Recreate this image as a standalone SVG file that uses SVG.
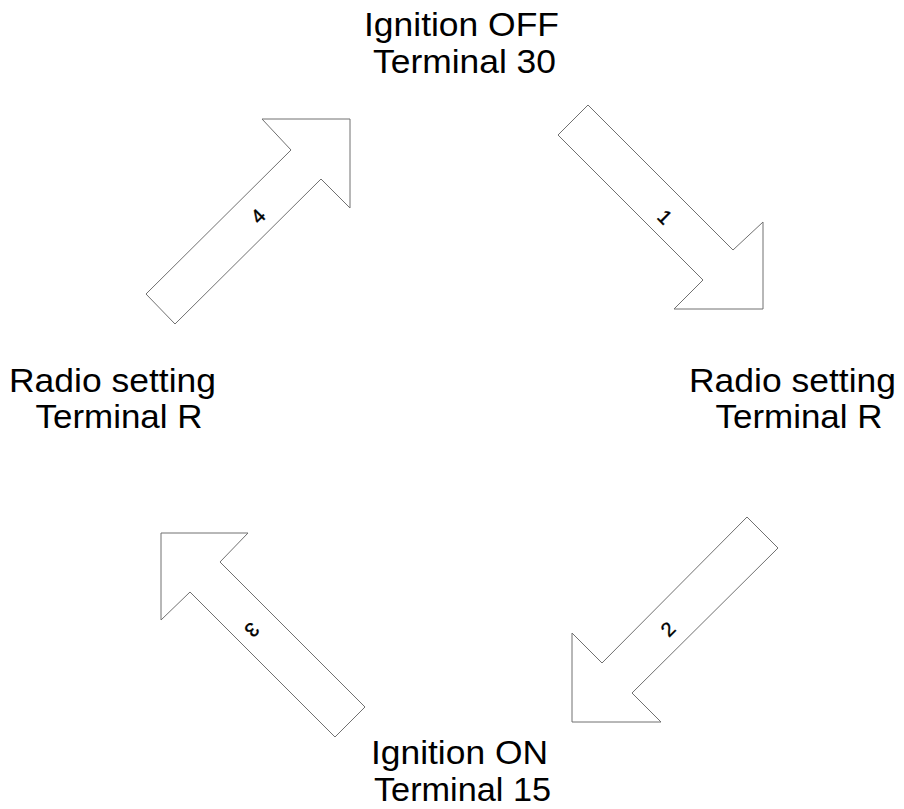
<svg xmlns="http://www.w3.org/2000/svg" width="904" height="809" viewBox="0 0 904 809">
<style>
.arrow{fill:#ffffff;stroke:#707070;stroke-width:1}
.state{font-family:"Liberation Sans",Arial,Helvetica,sans-serif;font-size:33px;fill:#000}
.num{font-family:"Liberation Sans",Arial,Helvetica,sans-serif;font-size:20px;fill:#000;stroke:#000;stroke-width:0.4;text-anchor:middle;dominant-baseline:central}
</style>
<rect width="904" height="809" fill="#ffffff"/>
<g id="state-off">
<text class="state" x="364" y="36" textLength="195" lengthAdjust="spacingAndGlyphs">Ignition OFF</text>
<text class="state" x="373" y="73" textLength="183" lengthAdjust="spacingAndGlyphs">Terminal 30</text>
</g>
<g id="state-radio-right">
<text class="state" x="689" y="392" textLength="207" lengthAdjust="spacingAndGlyphs">Radio setting</text>
<text class="state" x="715.5" y="428" textLength="167" lengthAdjust="spacingAndGlyphs">Terminal R</text>
</g>
<g id="state-on">
<text class="state" x="371" y="764" textLength="177" lengthAdjust="spacingAndGlyphs">Ignition ON</text>
<text class="state" x="374" y="801" textLength="177" lengthAdjust="spacingAndGlyphs">Terminal 15</text>
</g>
<g id="state-radio-left">
<text class="state" x="9" y="392" textLength="207" lengthAdjust="spacingAndGlyphs">Radio setting</text>
<text class="state" x="35.5" y="428" textLength="167" lengthAdjust="spacingAndGlyphs">Terminal R</text>
</g>
<g id="connectors">
<g id="arrow-1">
<polygon class="arrow" points="588,105 733,250 763,222 763,309 674,309 703,280 558,135"/>
<text class="num" transform="translate(665,217) rotate(45)">1</text>
</g>
<g id="arrow-2">
<polygon class="arrow" points="747,517 778,548 632,693 661,722 572,722 572,633 602,663"/>
<text class="num" transform="translate(668,629) rotate(-45)">2</text>
</g>
<g id="arrow-3">
<polygon class="arrow" points="161,533 248,533 220,562 365,707 335,737 190,592 161,620"/>
<text class="num" transform="translate(252,630) rotate(135)">3</text>
</g>
<g id="arrow-4">
<polygon class="arrow" points="350,119 262,119 291,150 146,294 175,324 321,179 350,208"/>
<text class="num" transform="translate(258,216) rotate(-45)">4</text>
</g>
</g>
</svg>
